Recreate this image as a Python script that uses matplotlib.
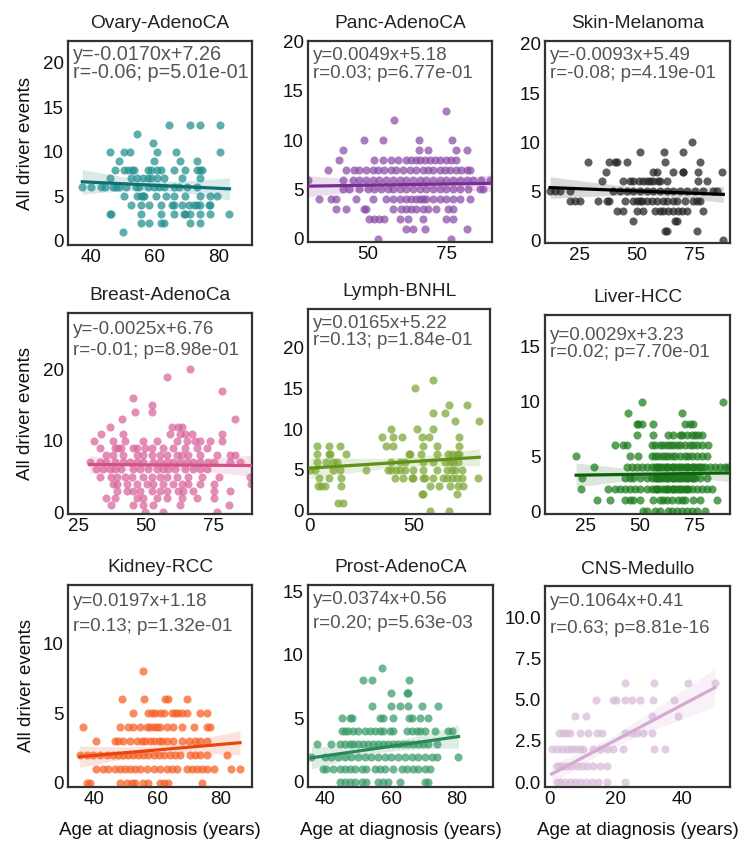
import numpy as np
import matplotlib
matplotlib.use("Agg")
import matplotlib.pyplot as plt

plt.rcParams['font.family'] = ['Liberation Sans', 'DejaVu Sans']

# ---------------- data ----------------
titles = ["Ovary-AdenoCA", "Panc-AdenoCA", "Skin-Melanoma",
          "Breast-AdenoCa", "Lymph-BNHL", "Liver-HCC",
          "Kidney-RCC", "Prost-AdenoCA", "CNS-Medullo"]
slopes = [-0.0170, 0.0049, -0.0093, -0.0025, 0.0165, 0.0029, 0.0197, 0.0374, 0.1064]
intercepts = [7.26, 5.18, 5.49, 6.76, 5.22, 3.23, 1.18, 0.56, 0.41]
r_values = [-0.06, 0.03, -0.08, -0.01, 0.13, 0.02, 0.13, 0.20, 0.63]
p_values = [5.01e-01, 6.77e-01, 4.19e-01, 8.98e-01, 1.84e-01, 7.70e-01, 1.32e-01, 5.63e-03, 8.81e-16]

# ages at diagnosis grouped by number of driver events
ovary_points = {
    13: [64.4, 71.2, 74.3, 80.5],
    12: [54.3],
    11: [59.5],
    10: [45.9, 50.4, 52.3, 60.8, 66.5, 80.5],
    9: [48.8, 59.7, 68.0, 73.2],
    8: [47.3, 50.4, 51.4, 52.9, 53.5, 57.7, 58.7, 60.8, 61.8, 66.0, 69.6, 73.2, 74.3, 74.8],
    7: [45.7, 52.5, 54.5, 56.1, 57.7, 58.7, 60.8, 62.9, 68.6, 74.3],
    6: [37.1, 40.0, 43.1, 44.2, 46.8, 47.8, 48.8, 50.9, 54.0, 55.1, 57.7, 59.7, 61.3, 62.9, 66.0, 67.5, 70.1, 73.2],
    5: [50.4, 54.5, 55.6, 56.1, 56.6, 60.3, 63.4, 66.0, 69.6, 74.3, 77.4, 79.5],
    4: [52.5, 55.6, 58.2, 61.8, 65.5, 66.0, 68.6, 70.6, 72.2, 73.2, 74.3, 76.9, 77.4],
    3: [45.7, 46.0, 55.6, 61.8, 66.0, 69.1, 69.6, 71.2, 74.3, 77.4, 83.5],
    2: [55.6, 58.2, 61.8, 62.9, 71.2, 74.3],
    1: [49.9],
}
panc_points = {
    13: [75.0],
    12: [58.5],
    10: [48.9, 54.8, 66.3, 76.8],
    9: [42.0, 66.3, 69.1, 78.2, 81.7],
    8: [41.0, 52.1, 54.8, 57.4, 59.6, 62.2, 63.8, 65.4, 66.5, 68.1, 69.7, 71.3, 72.9, 75.0, 76.6, 78.2],
    7: [37.2, 43.1, 45.7, 47.3, 49.5, 51.6, 53.2, 55.3, 57.4, 59.0, 61.2, 63.3, 65.4, 67.6, 69.1, 70.7,
        72.9, 74.5, 76.1, 78.2, 79.8, 81.4, 82.4],
    6: [30.9, 42.0, 45.2, 47.3, 49.5, 51.6, 53.7, 55.9, 58.0, 60.1, 62.2, 64.4, 66.5, 68.6, 70.7, 72.9,
        75.0, 77.1, 79.3, 81.4, 83.5, 86.1, 89.0],
    5: [42.0, 44.1, 47.3, 50.0, 52.1, 54.3, 56.4, 58.0, 60.1, 62.2, 64.4, 66.5, 68.6, 70.7, 72.9, 75.0,
        77.1, 79.3, 81.9, 85.6, 86.7],
    4: [34.6, 38.3, 39.9, 46.3, 51.6, 55.9, 58.0, 60.1, 62.2, 63.8, 65.4, 66.5, 67.6, 68.6, 70.7, 72.9,
        75.0, 77.1, 79.3, 82.4],
    3: [39.9, 43.1, 48.9, 49.5, 58.0, 60.6, 62.2, 63.8, 65.4, 67.6, 69.1, 71.8, 75.5, 77.1],
    2: [50.5, 52.1, 53.7, 55.3, 60.1, 62.8, 67.6, 75.0, 77.1],
    1: [62.2, 64.4, 68.1, 81.4],
    0: [53.4, 76.6],
}
skin_points = {
    10: [73.6],
    9: [51.3, 61.8, 70.0],
    8: [29.0, 37.9, 40.5, 41.5, 45.5, 62.1, 77.2],
    7: [36.5, 57.0, 58.5, 65.7, 69.7, 70.0, 76.4, 86.5],
    6: [34.8, 44.1, 47.0, 48.4, 51.0, 52.7, 54.2, 55.6, 57.0, 59.2, 59.9, 62.8, 76.4, 80.0],
    5: [12.5, 14.7, 16.8, 21.1, 39.8, 42.7, 45.5, 48.4, 51.3, 54.2, 57.0, 59.9, 62.8, 65.7, 68.5, 71.4,
        75.0, 78.6, 82.9, 84.3],
    4: [21.1, 23.3, 25.4, 33.3, 37.0, 37.7, 44.8, 48.4, 49.9, 51.3, 52.0, 54.2, 56.3, 58.5, 61.4, 62.8,
        65.7, 67.1, 70.7, 74.3, 75.7, 77.2],
    3: [41.2, 44.1, 49.9, 52.7, 57.8, 59.9, 61.4, 63.5, 65.7, 67.8, 69.3, 71.4, 78.6],
    2: [48.4, 66.4, 67.1],
    1: [62.1, 62.8, 75.7],
    0: [87.2],
}
breast_points = {
    20: [66.4],
    19: [57.7],
    17: [78.1],
    16: [45.4],
    15: [52.2],
    14: [46.0, 52.2],
    13: [41.4, 83.0],
    12: [36.7, 59.6, 62.0, 63.3],
    11: [33.6, 41.7, 59.0, 62.7, 64.5, 67.0, 78.1],
    10: [30.9, 38.0, 42.3, 49.1, 54.0, 61.4, 65.1, 68.2, 70.1, 73.8, 78.1],
    9: [33.0, 38.6, 39.8, 41.0, 45.4, 46.6, 49.7, 52.2, 56.5, 60.2, 64.5, 68.8, 72.5],
    8: [35.5, 38.0, 41.7, 46.6, 49.1, 52.2, 55.2, 57.7, 61.4, 63.3, 65.7, 70.1, 76.2, 81.2, 83.0],
    7: [29.3, 33.0, 35.5, 38.6, 41.7, 44.1, 46.6, 49.1, 52.8, 55.2, 57.7, 60.2, 62.7, 65.1, 67.6, 70.1,
        73.1, 75.0, 81.2, 84.9],
    6: [31.8, 34.3, 36.7, 38.6, 41.0, 45.4, 47.8, 50.9, 54.0, 56.5, 58.3, 60.8, 64.5, 67.6, 70.1, 72.5],
    5: [33.0, 37.3, 39.2, 42.3, 44.8, 49.1, 52.2, 55.2, 57.7, 61.4, 65.7, 70.7, 76.9, 88.5],
    4: [38.0, 39.2, 42.9, 46.6, 50.3, 52.8, 56.5, 60.2, 63.3, 65.7, 70.1, 75.0, 89.0],
    3: [39.2, 42.9, 45.4, 47.8, 52.2, 55.2, 57.7, 62.0, 63.9, 67.6, 75.0, 81.2],
    2: [35.5, 38.6, 46.6, 49.1, 54.0, 57.7, 63.3, 68.8, 75.0],
    1: [37.3, 45.4, 49.1, 52.8, 62.7, 80.6],
    0: [49.7, 56.5, 76.2],
}
lymph_points = {
    16: [58.9],
    15: [50.5],
    13: [66.9, 75.5],
    12: [58.9, 64.8],
    11: [69.6, 81.2],
    10: [39.3, 51.3, 58.9],
    9: [34.6, 40.1, 44.1, 54.1, 57.3, 71.7],
    8: [4.0, 9.6, 14.6, 36.6, 40.1, 54.5, 60.8, 71.7],
    7: [4.0, 9.6, 9.9, 17.5, 47.8, 48.1, 53.3, 60.8, 66.4, 68.0, 70.4, 71.7],
    6: [4.0, 8.3, 11.5, 13.1, 39.3, 43.3, 45.7, 54.5, 59.2, 64.8, 67.2, 68.8, 71.2],
    5: [0.5, 2.7, 11.5, 14.6, 27.1, 37.7, 39.3, 41.7, 43.3, 45.7, 49.7, 54.5, 60.8, 65.6, 68.0, 69.6, 72.8],
    4: [4.8, 9.6, 15.4, 40.9, 44.9, 48.9, 49.7, 54.5, 55.3, 59.2, 64.0, 65.6, 68.0, 70.4, 72.8, 80.7],
    3: [4.3, 5.9, 7.5, 15.4, 57.6, 61.9, 67.2, 71.2, 73.6],
    2: [53.7, 54.5, 70.4],
    1: [13.9, 16.2],
    0: [57.6, 66.9],
}
liver_points = {
    10: [50.8, 88.3],
    9: [44.3, 69.2],
    8: [48.5, 49.2, 50.8, 56.1, 70.7, 73.0, 74.5],
    7: [48.5, 56.1, 63.0, 65.3, 68.4, 69.2, 71.5, 73.8, 75.3, 76.8, 78.4],
    6: [38.5, 42.3, 43.9, 55.4, 56.9, 59.2, 60.7, 62.3, 63.8, 65.3, 66.9, 68.4, 70.7, 73.0, 74.5, 76.1,
        78.4, 81.4],
    5: [20.6, 45.4, 49.2, 55.4, 56.9, 58.4, 60.0, 61.5, 63.0, 64.6, 66.1, 68.4, 70.7, 72.2, 73.8, 76.1,
        78.4, 80.7],
    4: [28.8, 43.9, 46.2, 48.5, 50.8, 53.1, 55.4, 56.9, 57.7, 58.4, 59.2, 60.0, 61.5, 62.3, 63.0, 64.6,
        65.3, 66.1, 67.6, 68.4, 69.2, 70.7, 71.5, 72.2, 73.8, 74.5, 75.3, 76.8, 77.6, 78.4, 79.9, 82.2,
        84.5, 86.8, 89.1, 90.6],
    3: [23.2, 43.1, 45.4, 46.9, 50.0, 53.1, 55.4, 56.9, 57.7, 58.4, 59.2, 60.0, 61.5, 62.3, 63.0, 64.6,
        65.3, 66.1, 67.6, 68.4, 69.2, 70.7, 71.5, 72.2, 73.8, 74.5, 75.3, 77.6, 80.7],
    2: [22.9, 35.4, 38.5, 40.8, 43.1, 45.4, 47.7, 50.0, 53.1, 55.4, 56.9, 57.7, 58.4, 60.0, 61.5, 62.3,
        63.0, 64.6, 65.3, 66.1, 67.6, 68.4, 69.2, 70.7, 71.5, 72.2, 73.8, 76.1, 78.4, 80.7, 83.0],
    1: [30.1, 36.2, 43.1, 45.4, 46.9, 50.0, 56.1, 59.2, 60.7, 62.3, 64.6, 67.6, 69.2, 70.7, 74.5, 77.6, 85.3],
    0: [51.5, 53.1, 56.9, 59.2, 63.0, 64.6, 66.9, 69.2, 71.5, 73.8, 76.1, 79.9],
}
kidney_points = {
    8: [55.6],
    6: [48.7, 55.8, 62.5, 63.5, 69.4],
    5: [52.4, 57.2, 58.2, 59.3, 60.9, 62.0, 64.6, 65.7, 66.7, 67.8, 69.4, 73.6, 75.7],
    4: [36.5, 48.2, 50.8, 52.4, 54.5, 56.6, 57.7, 58.8, 59.8, 60.9, 63.0, 65.1, 67.8, 71.5, 75.7, 76.8],
    3: [40.7, 46.6, 47.6, 49.2, 51.3, 53.5, 55.1, 56.1, 57.7, 58.8, 60.4, 61.4, 63.0, 65.1, 67.8, 69.9,
        72.0, 73.6, 75.7],
    2: [35.4, 37.6, 39.7, 41.8, 43.9, 46.0, 47.6, 49.2, 50.8, 52.4, 54.0, 55.6, 57.2, 58.8, 60.4, 62.0,
        64.1, 65.7, 67.3, 70.4, 72.0, 73.6, 75.7, 82.1],
    1: [40.7, 42.9, 44.5, 46.6, 48.2, 49.8, 51.3, 52.9, 54.5, 56.6, 58.8, 60.9, 63.0, 64.6, 66.2, 69.4,
        71.0, 72.6, 74.1, 75.7, 77.9, 83.2, 86.2],
    0: [37.6, 38.6, 48.2, 50.3, 51.9, 52.9, 55.6, 57.2, 60.9, 62.0, 63.5, 74.1],
}
prost_points = {
    9: [57.3],
    8: [51.3, 54.2, 65.4],
    7: [60.1, 64.7, 65.2],
    6: [54.2, 60.1, 62.7, 65.2, 69.3, 74.4],
    5: [44.9, 47.4, 48.1, 56.6, 57.6, 60.7, 65.4, 66.2, 68.8, 71.3],
    4: [44.9, 45.9, 46.9, 48.4, 50.0, 52.0, 53.5, 55.1, 56.6, 57.6, 59.6, 60.7, 64.7, 66.2, 67.8, 68.8,
        70.3, 73.4, 77.4, 78.5],
    3: [37.3, 41.8, 44.4, 45.9, 47.4, 48.4, 50.0, 51.5, 53.0, 54.5, 56.1, 57.6, 59.1, 60.7, 62.2, 63.7,
        65.2, 66.8, 68.3, 69.8, 71.3, 73.9],
    2: [35.7, 39.8, 41.8, 43.9, 45.9, 47.9, 50.0, 52.0, 54.0, 56.1, 58.1, 60.1, 62.2, 64.2, 66.2, 68.3,
        70.3, 72.3, 73.9, 80.5],
    1: [39.3, 40.3, 42.3, 44.4, 45.9, 47.4, 49.0, 51.0, 52.5, 55.1, 56.6, 58.1, 60.7, 63.2, 64.7, 66.8,
        68.3, 70.3, 71.8],
    0: [44.4, 45.9, 47.4, 49.0, 51.0, 52.5, 56.1, 57.6, 59.1, 62.7, 70.3, 71.3],
}
cns_points = {
    6: [22.9, 31.6, 41.8, 50.0],
    5: [14.0, 19.3, 20.3, 22.9, 24.9, 27.4, 31.2, 37.7],
    4: [7.8, 11.1, 30.9, 38.8],
    3: [3.0, 4.2, 5.0, 6.2, 9.3, 11.8, 14.3, 15.8, 22.9, 24.9, 26.4, 28.4, 30.9],
    2: [0.7, 2.2, 3.7, 5.2, 6.7, 7.8, 9.3, 10.3, 13.3, 15.3, 17.3, 19.3, 22.4, 31.6, 34.9],
    1: [2.2, 3.2, 4.2, 5.2, 6.7, 8.3, 9.8, 11.5, 13.3, 15.3, 17.3],
    0: [2.2, 3.2, 4.7, 6.2, 7.8, 9.3, 11.1, 12.8, 14.8, 17.3, 22.9],
}
all_points = [ovary_points, panc_points, skin_points, breast_points, lymph_points,
              liver_points, kidney_points, prost_points, cns_points]

x_ticks = [[40, 60, 80], [50, 75], [25, 50, 75], [25, 50, 75], [0, 50], [25, 50, 75],
           [40, 60, 80], [40, 60, 80], [0, 20, 40]]
y_ticks = [[0, 5, 10, 15, 20], [0, 5, 10, 15, 20], [0, 5, 10, 15, 20], [0, 10, 20],
           [0, 5, 10, 15, 20], [0, 5, 10, 15], [0, 5, 10], [0, 5, 10, 15],
           [0.0, 2.5, 5.0, 7.5, 10.0]]

# ---------------- style / layout ----------------
point_colors = ["#218f8f", "#8a4aa8", "#222222", "#d9629a", "#7aa632", "#1b7a1b",
                "#f75e22", "#389a68", "#d8bad8"]
line_colors = ["#0d7070", "#7a2c92", "#000000", "#d4508a", "#5f9216", "#0c620c",
               "#e8460f", "#278858", "#d2aad2"]
xlims = [(32.6, 90.6), (31, 89.5), (10.3, 90.1), (21.3, 89.2), (-0.5, 86.3), (6.3, 91.4),
         (31.7, 90), (34.7, 91), (-1.3, 54.6)]
ylims = [(-0.45, 22.4), (-0.34, 20.07), (-0.27, 20.3), (-0.25, 27.9), (-0.4, 24.75),
         (-0.25, 17.9), (-0.3, 14.2), (-0.4, 15.5), (-0.3, 11.9)]
# axes rectangles in pixels: left, top, right, bottom
rects_px = [(68, 41, 252, 245), (308, 41, 492, 242), (545, 41, 730, 243),
            (68, 313, 252, 514), (308, 309, 490, 514), (545, 315, 730, 514),
            (68, 585, 252, 787), (308, 585, 493, 787), (545, 586, 730, 787)]
text_y = [(0.935, 0.845), (0.93, 0.84), (0.929, 0.839), (0.917, 0.813), (0.93, 0.845),
          (0.898, 0.812), (0.917, 0.794), (0.926, 0.81), (0.921, 0.789)]
text_size = [14.3, 13.5, 13.5, 13.5, 13.5, 13.5, 13.5, 13.5, 13.5]

W, H = 750, 842
fig = plt.figure(figsize=(W / 100, H / 100), dpi=100)

for i in range(9):
    l, t, r, b = rects_px[i]
    ax = fig.add_axes([l / W, 1 - b / H, (r - l) / W, (b - t) / H])
    pts = all_points[i]
    xs = np.array([a for k in pts for a in pts[k]])
    ys = np.array([k for k in pts for _ in pts[k]], dtype=float)

    ax.scatter(xs, ys, s=34, color=point_colors[i], alpha=0.72, linewidths=0, zorder=2)

    # regression line with 95% confidence band
    xx = np.linspace(xs.min(), xs.max(), 100)
    yy = slopes[i] * xx + intercepts[i]
    n = len(xs)
    resid = ys - (slopes[i] * xs + intercepts[i])
    s_err = np.sqrt(np.sum(resid ** 2) / (n - 2))
    se = s_err * np.sqrt(1 / n + (xx - xs.mean()) ** 2 / np.sum((xs - xs.mean()) ** 2))
    ax.fill_between(xx, yy - 1.96 * se, yy + 1.96 * se, color=line_colors[i],
                    alpha=0.15, linewidth=0, zorder=1)
    ax.plot(xx, yy, color=line_colors[i], lw=2.3, zorder=3)

    ax.set_xlim(*xlims[i])
    ax.set_ylim(*ylims[i])
    ax.set_xticks(x_ticks[i])
    ax.set_yticks(y_ticks[i])
    if i == 8:
        ax.set_yticklabels(["%.1f" % v for v in y_ticks[i]])
    ax.tick_params(length=0, labelsize=13.5, pad=3, colors="#111111")
    for sp in ax.spines.values():
        sp.set_color("#333333")
        sp.set_linewidth(1.6)

    ax.set_title(titles[i], fontsize=13.8, color="#222222", pad=9)
    ax.text(0.025, text_y[i][0], "y={:.4f}x+{:.2f}".format(slopes[i], intercepts[i]),
            transform=ax.transAxes, fontsize=text_size[i], color="#555555", va="center", ha="left")
    ax.text(0.025, text_y[i][1], "r={:.2f}; p={:.2e}".format(r_values[i], p_values[i]),
            transform=ax.transAxes, fontsize=text_size[i], color="#555555", va="center", ha="left")

    if i % 3 == 0:
        ax.set_ylabel("All driver events", fontsize=13.5, color="#111111", labelpad=6)
    if i >= 6:
        ax.set_xlabel("Age at diagnosis (years)", fontsize=13.5, color="#111111", labelpad=10)

fig.savefig("out.png", dpi=100)
